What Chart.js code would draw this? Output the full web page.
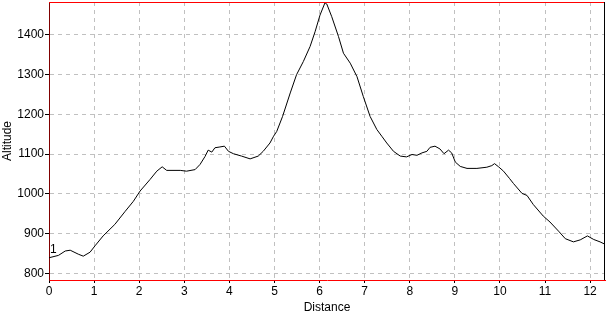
<!DOCTYPE html>
<html>
<head>
<meta charset="utf-8">
<script src="https://cdn.jsdelivr.net/npm/chart.js@4"></script>
<style>
  html, body { margin: 0; padding: 0; background: #fff; }
  #wrap { width: 606px; height: 315px; }
</style>
</head>
<body>
<div id="wrap"><canvas id="profile"></canvas></div>
<script>
// distance (km) / altitude (m)
const distance = [0, 0.21, 0.36, 0.47, 0.65, 0.76, 0.91, 1.02, 1.20, 1.46, 1.69, 1.87, 2.02, 2.24, 2.39, 2.51, 2.61, 2.91, 3.05, 3.24,
  3.35, 3.46, 3.53, 3.61, 3.68, 3.79, 3.89, 3.98, 4.09, 4.27, 4.46, 4.64, 4.75, 4.90, 4.98, 5.05, 5.18, 5.35, 5.49, 5.64,
  5.79, 5.90, 6.01, 6.12, 6.16, 6.27, 6.42, 6.53, 6.68, 6.83, 6.97, 7.12, 7.27, 7.38, 7.49, 7.64, 7.79, 7.93, 8.05, 8.16,
  8.27, 8.38, 8.45, 8.56, 8.67, 8.76, 8.86, 8.93, 9.01, 9.12, 9.27, 9.49, 9.71, 9.82, 9.88, 9.97, 10.08, 10.21, 10.30, 10.49,
  10.60, 10.74, 10.96, 11.11, 11.30, 11.45, 11.63, 11.78, 11.94, 12.08, 12.22, 12.33];
const altitude = [839, 845, 856, 858, 848, 843, 853, 869, 894, 923, 956, 981, 1007, 1036, 1057, 1068, 1059, 1059, 1057, 1061,
  1074, 1094, 1110, 1105, 1116, 1118, 1120, 1107, 1101, 1095, 1088, 1095, 1107, 1128, 1145, 1157, 1195, 1254, 1300, 1333,
  1371, 1408, 1450, 1481, 1478, 1446, 1396, 1354, 1329, 1295, 1245, 1195, 1162, 1145, 1128, 1107, 1095, 1093, 1099, 1097,
  1103, 1107, 1117, 1120, 1113, 1101, 1110, 1103, 1080, 1069, 1064, 1064, 1067, 1071, 1076, 1068, 1057, 1039, 1026, 1001,
  996, 973, 944, 929, 906, 887, 879, 884, 894, 885, 879, 873];
const xTicks = [0, 1, 2, 3, 4, 5, 6, 7, 8, 9, 10, 11, 12];
const yTicks = [800, 900, 1000, 1100, 1200, 1300, 1400];

const points = distance.map((d, i) => ({ x: d, y: altitude[i] }));

// top red line, right black line and the "1" marker label
const frame = {
    id: 'frame',
    afterDraw(chart) {
        const { ctx, chartArea: a, scales } = chart;
        ctx.save();
        ctx.lineWidth = 1;
        ctx.strokeStyle = '#ff0000';
        ctx.beginPath();
        ctx.moveTo(a.left, a.top + 0.5);
        ctx.lineTo(a.right, a.top + 0.5);
        ctx.stroke();
        ctx.strokeStyle = '#000000';
        ctx.beginPath();
        ctx.moveTo(a.right - 0.5, a.top);
        ctx.lineTo(a.right - 0.5, a.bottom);
        ctx.stroke();
        ctx.fillStyle = '#000';
        ctx.font = '12px "Liberation Sans", Arial, sans-serif';
        ctx.textBaseline = 'bottom';
        ctx.fillText('1', scales.x.getPixelForValue(distance[0]) + 1, scales.y.getPixelForValue(altitude[0]) - 2);
        ctx.restore();
    }
};

Chart.defaults.font.family = '"Liberation Sans", Arial, sans-serif';
Chart.defaults.font.size = 12;
Chart.defaults.color = '#000';

new Chart(document.getElementById('profile'), {
    type: 'line',
    data: {
        datasets: [{
            data: points,
            borderColor: '#000',
            borderWidth: 1,
            pointRadius: 0,
            tension: 0,
            fill: false
        }]
    },
    options: {
        responsive: true,
        maintainAspectRatio: false,
        animation: false,
        layout: { padding: { top: 2, right: 1, left: 0, bottom: 0 } },
        plugins: { legend: { display: false }, tooltip: { enabled: false } },
        scales: {
            x: {
                type: 'linear',
                min: 0,
                max: 12.33,
                afterBuildTicks: (axis) => { axis.ticks = xTicks.map(v => ({ value: v })); },
                afterFit: (axis) => { axis.height = 35; axis.paddingLeft = 0; axis.paddingRight = 0; },
                grid: { color: '#c0c0c0', tickColor: '#000', tickLength: 3, drawTicks: true },
                border: { color: '#ff0000', width: 1, dash: [4, 4] },
                ticks: { maxRotation: 0, padding: 1, callback: (v) => String(v) },
                title: { display: true, text: 'Distance', padding: { top: 0, bottom: 0 } }
            },
            y: {
                min: 783,
                max: 1483,
                afterBuildTicks: (axis) => { axis.ticks = yTicks.map(v => ({ value: v })); },
                afterFit: (axis) => { axis.width = 49; axis.paddingTop = 0; axis.paddingBottom = 0; },
                grid: { color: '#c0c0c0', tickColor: '#000', tickLength: 4, drawTicks: true },
                border: { color: '#800000', width: 1, dash: [4, 4] },
                ticks: { padding: 1, callback: (v) => String(v) },
                title: { display: true, text: 'Altitude', padding: { top: 0, bottom: 0 } }
            }
        }
    },
    plugins: [frame]
});
</script>
</body>
</html>
